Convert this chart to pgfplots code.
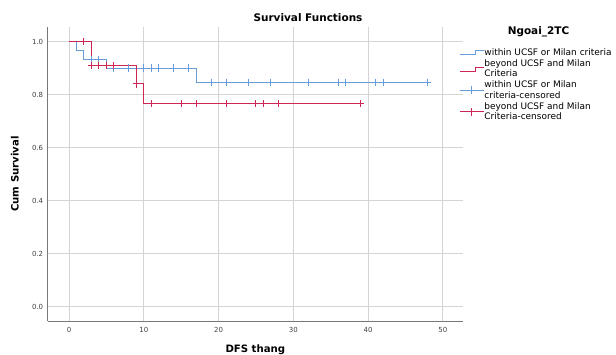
\documentclass[border=0pt]{standalone}
\usepackage{pgfplots}
\pgfplotsset{compat=1.18}
\usepackage{fontspec}
\setmainfont{DejaVu Sans}
\definecolor{kmblue}{rgb}{0.41,0.61,0.855}
\definecolor{kmred}{rgb}{0.8,0.15,0.33}
\definecolor{gridc}{rgb}{0.83,0.83,0.83}
\definecolor{axc}{rgb}{0.47,0.47,0.47}
\tikzset{kmb/.style={draw=kmblue, line width=1bp},
         kmr/.style={draw=kmred, line width=1bp}}
\begin{document}
\begin{tikzpicture}
\path[use as bounding box] (-47.7bp,-34bp) rectangle (568.3bp,321bp);
\begin{axis}[
  at={(0,0)}, anchor=south west,
  scale only axis, width=415.3bp, height=294bp,
  xmin=-2.85, xmax=52.7, ymin=-0.054, ymax=1.055,
  axis lines*=left,
  axis line style={draw=axc, line width=0.8bp},
  xtick={0,10,20,30,40,50},
  ytick={0,0.2,0.4,0.6,0.8,1.0},
  yticklabel style={/pgf/number format/fixed, /pgf/number format/fixed zerofill, /pgf/number format/precision=1, xshift=-1bp},
  /pgf/number format/assume math mode=true,
  tick label style={font=\fontsize{7}{8}\selectfont, text=black!75},
  major tick length=0pt,
  xticklabel style={yshift=-3bp},
  grid=major,
  major grid style={draw=gridc, line width=0.8bp},
  clip=false,
  legend cell align=left,
  legend style={at={(rel axis cs:0.9904,0.928)}, anchor=north west, draw=none, fill=none,
    font=\fontsize{9}{10.2}\selectfont, inner sep=0pt, outer sep=0pt, row sep=2.1bp,
    nodes={align=left, inner sep=0.4bp}},
]
\addlegendimage{legend image code/.code={\draw[kmb] (0bp,-2bp) -- (16bp,-2bp) -- (16bp,2bp) -- (24bp,2bp);}}
\addlegendentry{within UCSF or Milan criteria}
\addlegendimage{legend image code/.code={\draw[kmr] (0bp,-2bp) -- (16bp,-2bp) -- (16bp,2bp) -- (24bp,2bp);}}
\addlegendentry{beyond UCSF and Milan\\Criteria}
\addlegendimage{legend image code/.code={\draw[kmb] (0bp,0bp) -- (24bp,0bp) (12bp,-4bp) -- (12bp,4bp);}}
\addlegendentry{within UCSF or Milan\\criteria-censored}
\addlegendimage{legend image code/.code={\draw[kmr] (0bp,0bp) -- (24bp,0bp) (12bp,-4bp) -- (12bp,4bp);}}
\addlegendentry{beyond UCSF and Milan\\Criteria-censored}

% step curves
\addplot[kmb, const plot, mark=none, forget plot] coordinates {
(0,1.0) (1,0.967) (2,0.933) (5,0.900) (17,0.847) (48,0.847)};
\addplot[kmr, const plot, mark=none, forget plot] coordinates {
(0,1.0) (3,0.909) (9,0.840) (10,0.765) (39,0.765)};
% censored marks
\addplot[only marks, mark=+, mark size=3.6bp, mark options={draw=kmblue, line width=1bp}, forget plot] coordinates {
(3,0.933) (4,0.933) (6,0.900) (8,0.900) (10,0.900) (11,0.900) (12,0.900) (14,0.900) (16,0.900)
(19,0.847) (21,0.847) (24,0.847) (27,0.847) (32,0.847) (36,0.847) (37,0.847) (41,0.847) (42,0.847) (48,0.847)};
\addplot[only marks, mark=+, mark size=3.6bp, mark options={draw=kmred, line width=1bp}, forget plot] coordinates {
(2,1.0) (3,0.909) (4,0.909) (5,0.909) (6,0.909) (9,0.840) (11,0.765) (15,0.765) (17,0.765)
(21,0.765) (25,0.765) (26,0.765) (28,0.765) (39,0.765)};
\end{axis}
\node[font=\fontsize{10.5}{12}\selectfont\bfseries] at (260.3bp,303bp) {Survival Functions};
\node[font=\fontsize{10.5}{12}\selectfont\bfseries] at (490.8bp,289bp) {Ngoai\_2TC};
\node[font=\fontsize{10.2}{12}\selectfont\bfseries, anchor=base] at (207.65bp,-31bp) {DFS thang};
\node[font=\fontsize{10.2}{12}\selectfont\bfseries, rotate=90, anchor=base] at (-29bp,147bp) {Cum Survival};
\end{tikzpicture}
\end{document}
